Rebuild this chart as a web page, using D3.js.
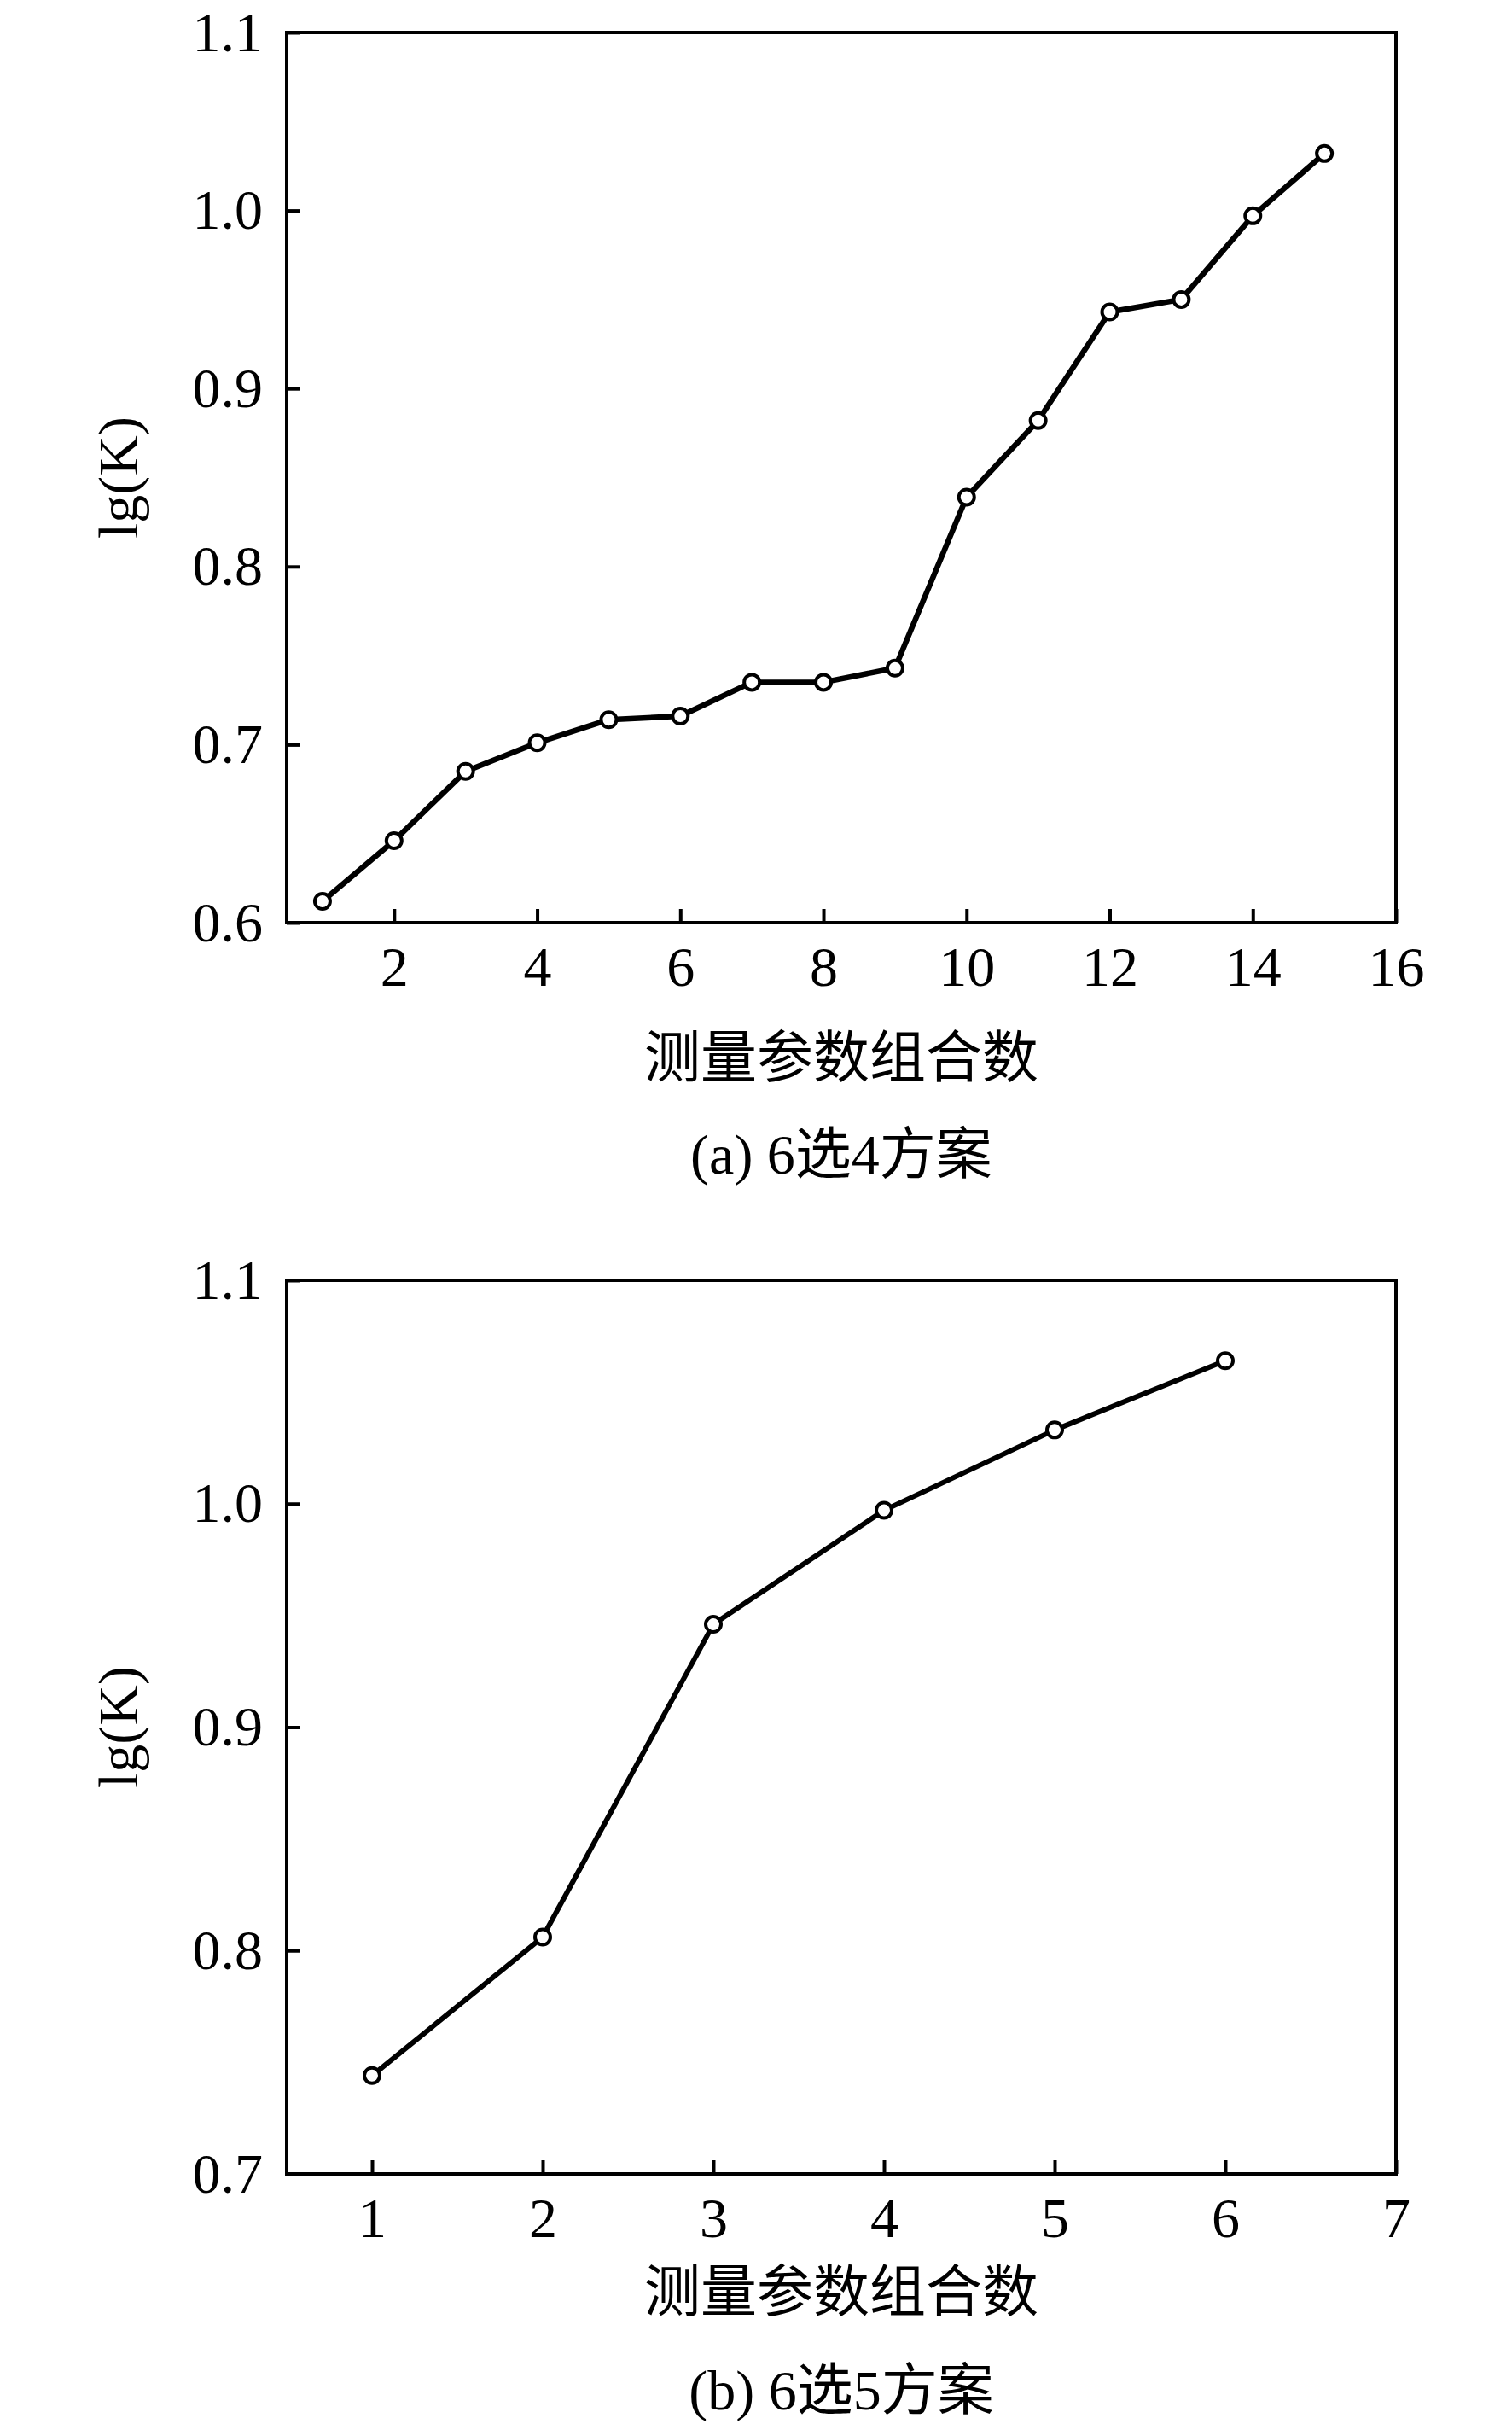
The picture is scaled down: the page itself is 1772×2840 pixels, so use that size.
<!DOCTYPE html>
<html>
<head>
<meta charset="utf-8">
<script src="https://cdn.jsdelivr.net/npm/d3@7"></script>
<style>
  body { margin: 0; background: #fff; }
  svg { display: block; }
  .num { font-family: "Liberation Serif", "Times New Roman", serif; font-size: 66px; fill: #000; }
  .cjk { font-family: "Liberation Serif", "Times New Roman", "Noto Sans CJK SC", serif; font-size: 66px; fill: #000; }
</style>
</head>
<body>
<svg id="chart" width="1772" height="2840"></svg>
<script>
// (a) 6选4方案
const combosA = [1, 2, 3, 4, 5, 6, 7, 8, 9, 10, 11, 12, 13, 14, 15];
const lgKA = [0.612, 0.646, 0.685, 0.701, 0.714, 0.716, 0.735, 0.735, 0.743, 0.839, 0.882, 0.943, 0.950, 0.997, 1.032];
const xTicksA = [2, 4, 6, 8, 10, 12, 14, 16];
const yTicksA = [0.6, 0.7, 0.8, 0.9, 1.0, 1.1];

// (b) 6选5方案
const combosB = [1, 2, 3, 4, 5, 6];
const lgKB = [0.744, 0.806, 0.946, 0.997, 1.033, 1.064];
const xTicksB = [1, 2, 3, 4, 5, 6, 7];
const yTicksB = [0.7, 0.8, 0.9, 1.0, 1.1];

const xTitle = '测量参数组合数';
const yTitle = 'lg(K)';

const svg = d3.select('#chart');

const panels = [
  { xs: combosA, ys: lgKA, xDomain: [0.5, 16], yDomain: [0.6, 1.1], xTicks: xTicksA, yTicks: yTicksA,
    top: 38, bottom: 1081, titleY: 1262, captionY: 1375, caption: '(a) 6选4方案', lineW: 6.5 },
  { xs: combosB, ys: lgKB, xDomain: [0.5, 7], yDomain: [0.7, 1.1], xTicks: xTicksB, yTicks: yTicksB,
    top: 1500, bottom: 2547, titleY: 2708, captionY: 2823, caption: '(b) 6选5方案', lineW: 6 }
];

const left = 336, right = 1636;

panels.forEach(p => {
  const x = d3.scaleLinear().domain(p.xDomain).range([left, right]);
  const y = d3.scaleLinear().domain(p.yDomain).range([p.bottom, p.top]);
  const g = svg.append('g');

  const yAxis = g.append('g')
    .attr('transform', `translate(${left},0)`)
    .call(d3.axisLeft(y).tickValues(p.yTicks).tickFormat(d3.format('.1f')).tickSize(-16).tickPadding(28));
  const xAxis = g.append('g')
    .attr('transform', `translate(0,${p.bottom})`)
    .call(d3.axisBottom(x).tickValues(p.xTicks).tickFormat(d3.format('d')).tickSize(-16).tickPadding(27));

  [xAxis, yAxis].forEach(a => {
    a.select('.domain').remove();
    a.selectAll('line').attr('stroke', '#000').attr('stroke-width', 4);
    a.selectAll('text').attr('class', 'num');
    a.attr('font-size', null).attr('font-family', null);
  });

  g.append('rect')
    .attr('x', left).attr('y', p.top)
    .attr('width', right - left).attr('height', p.bottom - p.top)
    .attr('fill', 'none').attr('stroke', '#000').attr('stroke-width', 4);

  const pts = p.xs.map((d, i) => [d, p.ys[i]]);
  g.append('path')
    .datum(pts)
    .attr('fill', 'none')
    .attr('stroke', '#000')
    .attr('stroke-width', p.lineW)
    .attr('stroke-linejoin', 'round')
    .attr('d', d3.line().x(d => x(d[0])).y(d => y(d[1])));

  g.selectAll('circle.pt')
    .data(pts)
    .enter()
    .append('circle')
    .attr('class', 'pt')
    .attr('cx', d => x(d[0]))
    .attr('cy', d => y(d[1]))
    .attr('r', 9)
    .attr('fill', '#fff')
    .attr('stroke', '#000')
    .attr('stroke-width', 4);

  const cy = (p.top + p.bottom) / 2;
  g.append('text')
    .attr('class', 'num')
    .attr('text-anchor', 'middle')
    .attr('transform', `translate(161,${cy}) rotate(-90)`)
    .text(yTitle);

  g.append('text')
    .attr('class', 'cjk')
    .attr('text-anchor', 'middle')
    .attr('x', (left + right) / 2)
    .attr('y', p.titleY)
    .text(xTitle);

  g.append('text')
    .attr('class', 'cjk')
    .attr('text-anchor', 'middle')
    .attr('x', (left + right) / 2)
    .attr('y', p.captionY)
    .text(p.caption);
});
</script>
</body>
</html>
